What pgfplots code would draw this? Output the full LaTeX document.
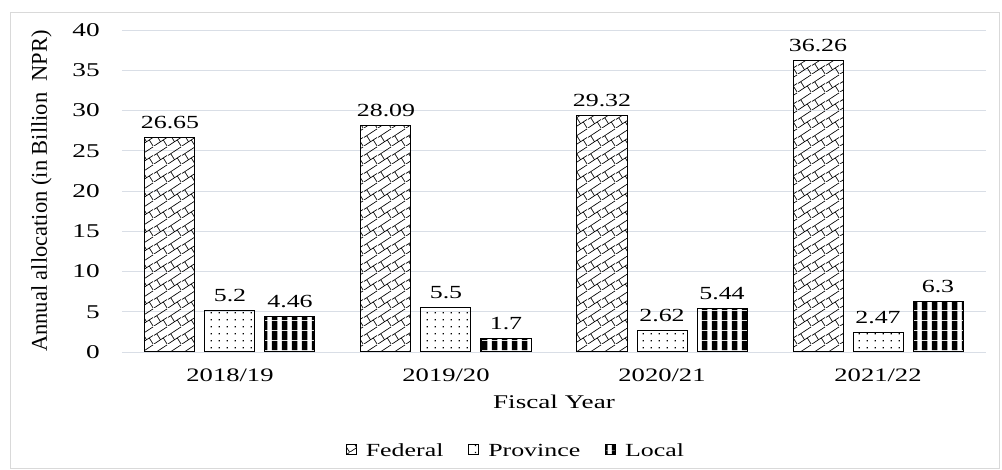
\documentclass[border=0pt]{standalone}
\usepackage{fontspec}
\setmainfont{Liberation Serif}[FakeStretch=1.4]
\newfontfamily\plainserif{Liberation Serif}
\usepackage{pgfplots}
\pgfplotsset{compat=1.18}
\usetikzlibrary{patterns}

\definecolor{gridgray}{RGB}{217,222,230}
\definecolor{framegray}{RGB}{217,217,217}

% diagonal brick, sparse dots, wide vertical stripes
\pgfdeclarepatternformonly{diagbrick}{\pgfpointorigin}{\pgfqpoint{14pt}{18pt}}{\pgfqpoint{14pt}{18pt}}{
  \pgfsetlinewidth{0.7pt}
  \pgfpathmoveto{\pgfqpoint{0pt}{0pt}}\pgfpathlineto{\pgfqpoint{14pt}{9pt}}
  \pgfpathmoveto{\pgfqpoint{0pt}{9pt}}\pgfpathlineto{\pgfqpoint{14pt}{18pt}}
  \pgfpathmoveto{\pgfqpoint{9.9pt}{6.36pt}}\pgfpathlineto{\pgfqpoint{14pt}{0pt}}
  \pgfpathmoveto{\pgfqpoint{2.9pt}{10.86pt}}\pgfpathlineto{\pgfqpoint{7pt}{4.5pt}}
  \pgfusepath{stroke}}
\pgfdeclarepatternformonly{sparsedots}{\pgfpointorigin}{\pgfqpoint{8pt}{7pt}}{\pgfqpoint{8pt}{7pt}}{
  \pgfpathrectangle{\pgfqpoint{3pt}{3pt}}{\pgfqpoint{1.3pt}{1.3pt}}
  \pgfusepath{fill}}
\pgfdeclarepatternformonly{vstripes}{\pgfpointorigin}{\pgfqpoint{10pt}{10pt}}{\pgfqpoint{10pt}{10pt}}{
  \pgfpathrectangle{\pgfqpoint{2pt}{0pt}}{\pgfqpoint{6pt}{10pt}}
  \pgfusepath{fill}}

\begin{document}
\begin{tikzpicture}
\useasboundingbox (-122pt,-118pt) rectangle (880pt,352pt);
\draw[framegray, line width=0.8pt] (-112pt,-116pt) rectangle (877pt,340pt);
\begin{axis}[
    scale only axis,
    width=864pt, height=322pt,
    ybar=10pt,
    bar width=50pt,
    xmin=-0.5, xmax=3.5,
    ymin=0, ymax=40,
    ytick={0,5,...,40},
    xtick={0,1,2,3},
    xticklabels={2018/19,2019/20,2020/21,2021/22},
    major tick length=0pt,
    axis line style={draw=none},
    ymajorgrids,
    grid style={gridgray, line width=0.9pt},
    /pgf/number format/assume math mode=true,
    yticklabel style={anchor=east, inner sep=0pt, xshift=-22pt, font=\fontsize{19.5}{21}\selectfont},
    xticklabel style={anchor=base, inner sep=0pt, yshift=-30pt, font=\fontsize{19}{21}\selectfont},
    xlabel={Fiscal Year},
    xlabel style={at={(axis description cs:0.5,-0.177)}, anchor=base, inner sep=0pt, font=\fontsize{19.4}{21}\selectfont},
    ylabel={Annual allocation (in Billion \ NPR)},
    ylabel style={at={(axis description cs:-0.0868,0.5)}, rotate=0, anchor=base, inner sep=0pt, font=\plainserif\fontsize{22.5}{24}\selectfont},
    nodes near coords,
    nodes near coords style={anchor=base, yshift=9pt, inner sep=0pt, font=\fontsize{18.5}{20}\selectfont, text=black},
    legend style={at={(axis description cs:0.4555,-0.307)}, anchor=center, draw=none,
        legend columns=3, font=\fontsize{18.5}{20}\selectfont,
        /tikz/every odd column/.append style={column sep=8pt},
        /tikz/every even column/.append style={column sep=24pt},
        nodes={inner sep=1pt}},
    legend cell align=left,
]
\addplot[draw=black, line width=1pt, pattern=diagbrick,
    legend image code/.code={\draw[draw=black, line width=0.8pt, pattern=diagbrick] (0pt,-4pt) rectangle (10pt,6pt);}]
    coordinates {(0,26.65) (1,28.09) (2,29.32) (3,36.26)};
\addplot[draw=black, line width=1pt, pattern=sparsedots,
    legend image code/.code={\draw[draw=black, line width=0.8pt, pattern=sparsedots] (0pt,-4pt) rectangle (10pt,6pt);}]
    coordinates {(0,5.2) (1,5.5) (2,2.62) (3,2.47)};
\addplot[draw=black, line width=1pt, pattern=vstripes,
    legend image code/.code={\draw[draw=black, line width=0.8pt, pattern=vstripes] (0pt,-4pt) rectangle (10pt,6pt);}]
    coordinates {(0,4.46) (1,1.7) (2,5.44) (3,6.3)};
\legend{Federal,Province,Local}
\end{axis}
\end{tikzpicture}
\end{document}
